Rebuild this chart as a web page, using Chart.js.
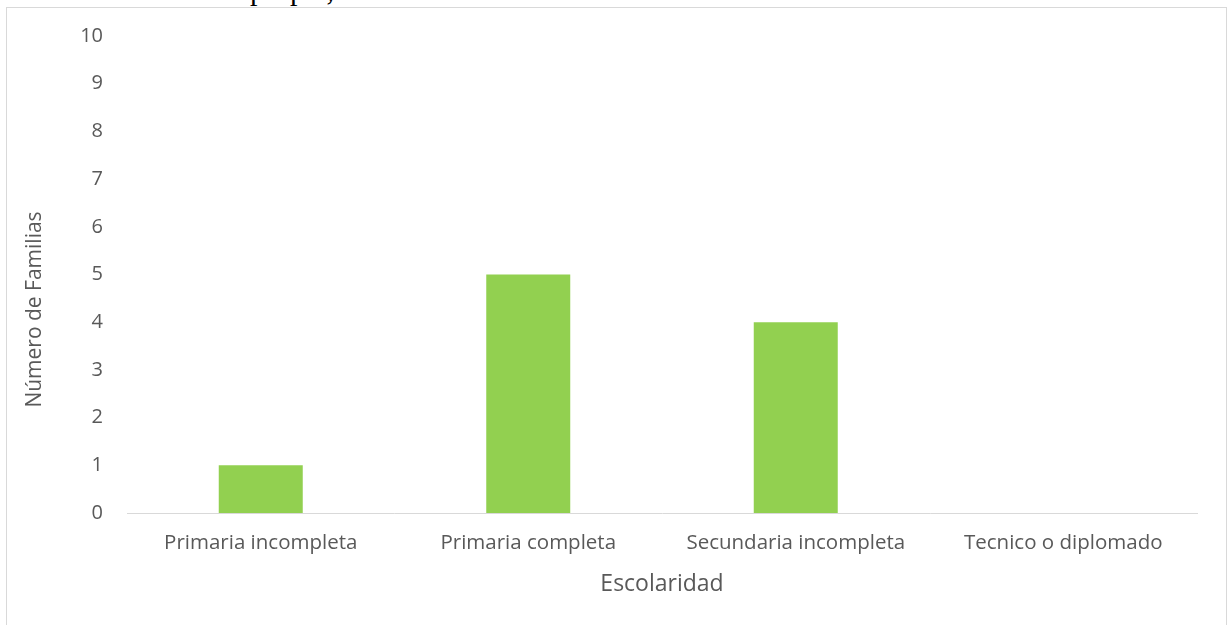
<!DOCTYPE html>
<html>
<head>
<meta charset="utf-8">
<script src="https://cdn.jsdelivr.net/npm/chart.js@4.4.0/dist/chart.umd.min.js"></script>
<style>
  html, body { margin: 0; padding: 0; background: #fff; overflow: hidden; }
  #fuente { position: absolute; left: 0; top: -27px; font-family: "Liberation Serif", serif; font-size: 30px; line-height: normal; color: #000; white-space: nowrap; }
  #marco { position: absolute; left: 6px; top: 7px; width: 1219px; height: 640px; border: 1px solid #d9d9d9; }
  #wrap { position: absolute; left: 0; top: 0; width: 1227px; height: 625px; }
</style>
</head>
<body>
<div id="marco"></div>
<div id="fuente">Fuente: Elaboración propia, 2019.</div>
<div id="wrap"><canvas id="myChart" width="1227" height="625"></canvas></div>
<script>
// datos
const categorias = ['Primaria incompleta', 'Primaria completa', 'Secundaria incompleta', 'Tecnico o diplomado'];
const familias = [1, 5, 4, 0];
const ticksY = [0, 1, 2, 3, 4, 5, 6, 7, 8, 9, 10];
const tituloY = 'Número de Familias';

const gris = '#595959';
const fuente = '"Open Sans"';

// el titulo del eje Y esta desplazado hacia abajo en el original
const tituloEjeY = {
    id: 'tituloEjeY',
    afterDraw: function (chart) {
        const c = chart.ctx;
        const area = chart.chartArea;
        c.save();
        c.translate(35, (area.top + area.bottom) / 2 + 35);
        c.rotate(-Math.PI / 2);
        c.font = '21px ' + fuente;
        c.fillStyle = gris;
        c.textAlign = 'center';
        c.textBaseline = 'middle';
        c.fillText(tituloY, 0, 0);
        c.restore();
    }
};

var ctx = document.getElementById('myChart').getContext('2d');
var myChart = new Chart(ctx, {
    type: 'bar',
    data: {
        labels: categorias,
        datasets: [{
            label: tituloY,
            data: familias,
            backgroundColor: '#92d050',
            borderWidth: 0,
            categoryPercentage: 1,
            barPercentage: 0.314,
        }]
    },
    plugins: [tituloEjeY],
    options: {
        responsive: false,
        animation: false,
        devicePixelRatio: 1,
        layout: {
            padding: { left: 0, right: 30, top: 35, bottom: 0 }
        },
        plugins: {
            legend: { display: false },
            tooltip: { enabled: false }
        },
        scales: {
            x: {
                grid: { display: false, drawTicks: false },
                border: { display: true, color: '#d9d9d9', width: 1 },
                ticks: {
                    color: gris,
                    font: { family: fuente, size: 20.5 },
                    padding: 18,
                    maxRotation: 0,
                },
                title: {
                    display: true,
                    text: 'Escolaridad',
                    color: gris,
                    font: { family: fuente, size: 23 },
                    padding: { top: 0, bottom: 27 }
                },
                afterFit: function (scale) { scale.height = 112; }
            },
            y: {
                min: 0,
                max: 10,
                grid: { display: false, drawTicks: false },
                border: { display: false },
                afterBuildTicks: function (scale) {
                    scale.ticks = ticksY.map(v => ({ value: v }));
                },
                ticks: {
                    color: gris,
                    font: { family: fuente, size: 20 },
                    padding: 24,
                },
                title: { display: false },
                afterFit: function (scale) { scale.width = 127; }
            }
        }
    }
});
</script>
</body>
</html>
